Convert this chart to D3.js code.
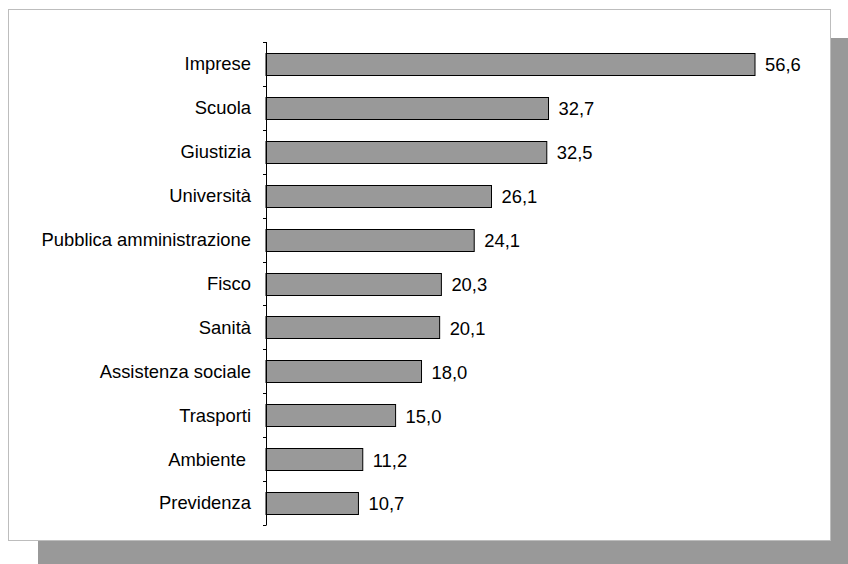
<!DOCTYPE html>
<html lang="it">
<head>
  <meta charset="UTF-8">
  <title>Bar chart</title>
  <script src="https://d3js.org/d3.v7.min.js"></script>
  <style>
    body { margin: 0; background: #fff; }
    text { font-family: "Liberation Sans", Arial, sans-serif; font-size: 18.4px; fill: #000; white-space: pre; }
  </style>
</head>
<body>
<div id="chart"></div>
<script>
// Data
const categories = ["Imprese", "Scuola", "Giustizia", "Università", "Pubblica amministrazione",
  "Fisco", "Sanità", "Assistenza sociale", "Trasporti", "Ambiente ", "Previdenza"];
const values = [56.6, 32.7, 32.5, 26.1, 24.1, 20.3, 20.1, 18.0, 15.0, 11.2, 10.7];

const W = 848, H = 564;
const svg = d3.select("#chart").append("svg")
  .attr("width", W)
  .attr("height", H);

// shadow and frame
svg.append("rect")
  .attr("x", 38).attr("y", 38)
  .attr("width", 810).attr("height", 526)
  .attr("fill", "#999999");
svg.append("rect")
  .attr("x", 8.5).attr("y", 9.5)
  .attr("width", 822).attr("height", 531)
  .attr("fill", "#fff")
  .attr("stroke", "#bdbdbd");

const x0 = 266, y0 = 42, y1 = 525;

const x = d3.scaleLinear()
  .domain([0, 56.6])
  .range([x0, 755]);

const y = d3.scaleBand()
  .domain(categories)
  .range([y0, y1])
  .paddingInner(0.5)
  .paddingOuter(0.25);

const bandStep = (y1 - y0) / categories.length;

// bars
svg.selectAll(".bar")
  .data(values)
  .enter().append("rect")
  .attr("class", "bar")
  .attr("x", x(0))
  .attr("y", (d, i) => Math.round(y(categories[i])) + 0.5)
  .attr("width", d => x(d) - x(0))
  .attr("height", Math.round(y.bandwidth()))
  .attr("fill", "#999999")
  .attr("stroke", "#000")
  .attr("stroke-width", 1);

// value labels
svg.selectAll(".val")
  .data(values)
  .enter().append("text")
  .attr("class", "val")
  .attr("x", d => x(d) + 10)
  .attr("y", (d, i) => y(categories[i]) + y.bandwidth() / 2 + 1)
  .attr("dy", "0.35em")
  .text(d => d.toFixed(1).replace(".", ","));

// category axis
const axis = svg.append("g");
axis.append("line")
  .attr("x1", x0 + 0.5).attr("x2", x0 + 0.5)
  .attr("y1", y0).attr("y2", y1)
  .attr("stroke", "#000");
axis.selectAll(".tick")
  .data(d3.range(categories.length + 1))
  .enter().append("line")
  .attr("class", "tick")
  .attr("x1", x0 - 3).attr("x2", x0 + 0.5)
  .attr("y1", i => Math.round(y0 + i * bandStep) + 0.5)
  .attr("y2", i => Math.round(y0 + i * bandStep) + 0.5)
  .attr("stroke", "#000");
axis.selectAll(".lab")
  .data(categories)
  .enter().append("text")
  .attr("class", "lab")
  .attr("x", 251)
  .attr("y", d => y(d) + y.bandwidth() / 2)
  .attr("dy", "0.35em")
  .attr("text-anchor", "end")
  .text(d => d);
</script>
</body>
</html>
